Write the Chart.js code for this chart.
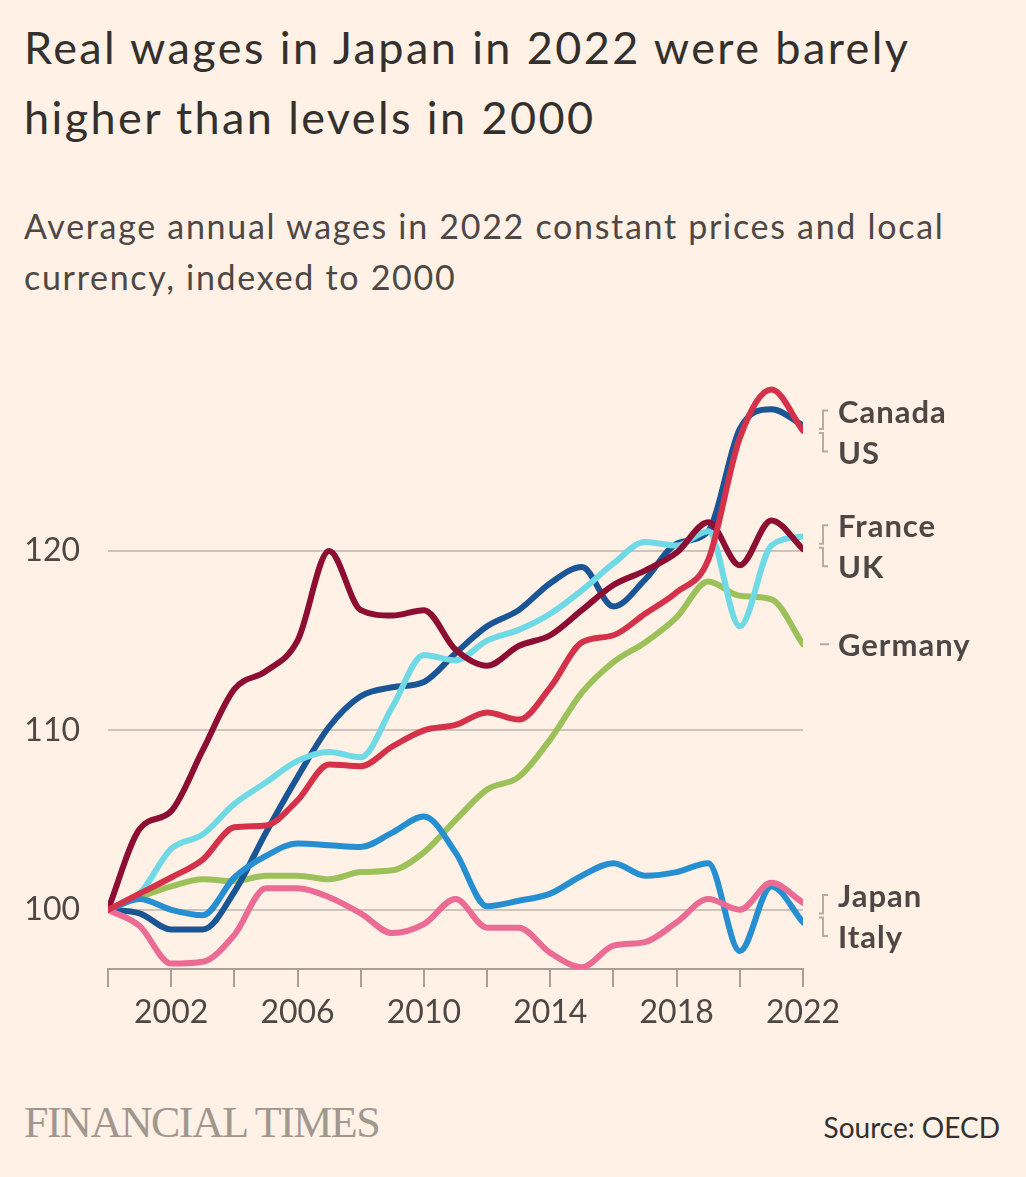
<!DOCTYPE html>
<html><head><meta charset="utf-8">
<script src="https://cdn.jsdelivr.net/npm/chart.js@4.4.1/dist/chart.umd.min.js"></script>
<style>
html,body{margin:0;padding:0;background:#fff1e5;}
body{width:1026px;height:1177px;position:relative;overflow:hidden;font-family:Lato,"Noto Sans",sans-serif;}
#title{position:absolute;left:24px;top:12px;font-size:45px;line-height:70px;color:#33302e;white-space:nowrap;letter-spacing:2.4px;}
#subtitle{position:absolute;left:24px;top:200px;font-size:34px;line-height:51px;color:#4d4845;white-space:nowrap;letter-spacing:1.7px;}
#wrap{position:absolute;left:0;top:340px;width:1026px;height:720px;}
.lbl{position:absolute;left:838px;font-size:31px;font-weight:700;color:#4d4845;line-height:1;transform:translateY(-50%);white-space:nowrap;letter-spacing:1px;}
#ft{position:absolute;left:24px;top:1097px;font-family:"Liberation Serif","DejaVu Serif",serif;font-size:44px;color:#a0978f;letter-spacing:-1.5px;white-space:nowrap;}
#src{position:absolute;right:26px;top:1110px;font-size:28px;color:#33302e;white-space:nowrap;}
</style></head>
<body>
<div id="title">Real wages in Japan in 2022 were barely<br>higher than levels in 2000</div>
<div id="subtitle">Average annual wages in 2022 constant prices and local<br>currency, indexed to 2000</div>
<div id="wrap"><canvas id="c" width="1026" height="720"></canvas></div>
<div id="labels"></div>
<div id="ft">FINANCIAL TIMES</div>
<div id="src">Source: OECD</div>
<script>
const years = [2000,2001,2002,2003,2004,2005,2006,2007,2008,2009,2010,2011,2012,2013,2014,2015,2016,2017,2018,2019,2020,2021,2022];
const canada  = [100,99.8,98.9,98.9,101.0,104.3,107.4,110.2,111.9,112.4,112.7,114.3,115.8,116.7,118.2,119.1,116.9,118.4,120.4,121.1,126.8,127.9,127.0];
const us      = [100,100.9,101.8,102.8,104.6,104.7,106.1,108.1,108.0,109.1,110.0,110.3,111.0,110.6,112.4,114.9,115.3,116.5,117.7,119.5,126.3,129.0,126.7];
const france  = [100,100.9,103.4,104.2,105.9,107.1,108.3,108.8,108.5,111.3,114.2,113.9,115.0,115.6,116.5,117.8,119.3,120.5,120.3,121.1,115.8,120.3,120.8];
const uk      = [100,104.5,105.5,108.9,112.3,113.3,115.0,120.0,116.7,116.4,116.7,114.5,113.6,114.7,115.3,116.7,118.1,118.9,119.9,121.6,119.2,121.7,120.1];
const germany = [100,100.7,101.3,101.7,101.6,101.9,101.9,101.7,102.1,102.2,103.2,105.0,106.7,107.4,109.5,112.1,113.8,114.9,116.3,118.3,117.5,117.3,114.8];
const japan   = [100,99.1,97.0,97.1,98.6,101.2,101.2,100.7,99.8,98.7,99.2,100.6,99.0,99.0,97.6,96.8,98.0,98.2,99.3,100.6,100.0,101.5,100.4];
const italy   = [100,100.6,100.0,99.7,101.8,103.0,103.7,103.6,103.5,104.3,105.2,103.2,100.2,100.5,100.9,101.9,102.6,101.9,102.1,102.6,97.7,101.3,99.3];
const yTicks = [100,110,120];
const xTicks = [2000,2002,2004,2006,2008,2010,2012,2014,2016,2018,2020,2022];
const xLabelYears = [2002,2006,2010,2014,2018,2022];

const seriesList = [
  {name:'US', data:us, color:'#d4324a', order:1},
  {name:'Japan', data:japan, color:'#eb6b95', order:2},
  {name:'UK', data:uk, color:'#8c0f33', order:3},
  {name:'Italy', data:italy, color:'#268fd1', order:4},
  {name:'France', data:france, color:'#70d9e6', order:5},
  {name:'Canada', data:canada, color:'#1a5596', order:6},
  {name:'Germany', data:germany, color:'#9cc15a', order:7}
];
const labelGroups = [['Canada','US'],['France','UK'],['Germany'],['Japan','Italy']];
const byName = {}; seriesList.forEach(s=>byName[s.name]=s);

const endLabels = {
  id:'endLabels',
  afterDraw(chart){
    const ys = chart.scales.y, ctx = chart.ctx;
    const xr = chart.chartArea.right;
    const box = document.getElementById('labels');
    box.innerHTML = '';
    ctx.save();
    ctx.strokeStyle = '#b5aca4';
    ctx.lineWidth = 2;
    labelGroups.forEach(g=>{
      const ends = g.map(n=>{const d=byName[n].data; return ys.getPixelForValue(d[d.length-1]);});
      const center = ends.reduce((a,b)=>a+b,0)/ends.length;
      g.forEach((n,i)=>{
        let ly = g.length===1 ? ends[0] : center + (i===0?-20.5:20.5) + 3;
        const ey = g.length===1 ? ends[0] : center + (i===0?-2:2) + 3;
        ctx.beginPath();
        if (g.length===1){
          ctx.moveTo(xr+17, ly); ctx.lineTo(xr+26, ly);
        } else {
          ctx.moveTo(xr+16, ey); ctx.lineTo(xr+20, ey); ctx.lineTo(xr+20, ly); ctx.lineTo(xr+25, ly);
        }
        ctx.stroke();
        const el = document.createElement('div');
        el.className='lbl'; el.textContent=n;
        el.style.top = (340 + ly) + 'px';
        box.appendChild(el);
      });
    });
    ctx.restore();
  }
};

new Chart(document.getElementById('c'), {
  type:'line',
  data:{
    datasets: seriesList.map(s=>({
      label:s.name,
      data: years.map((yr,i)=>({x:yr,y:s.data[i]})),
      borderColor:s.color,
      backgroundColor:s.color,
      borderWidth:6,
      pointRadius:0,
      fill:false,
      cubicInterpolationMode:'monotone',
      borderCapStyle:'round',
      borderJoinStyle:'round',
      order:s.order
    }))
  },
  options:{
    responsive:false,
    animation:false,
    layout:{padding:{left:0,right:223,top:31.5,bottom:0}},
    plugins:{legend:{display:false},tooltip:{enabled:false}},
    scales:{
      x:{
        type:'linear', min:2000, max:2022,
        afterBuildTicks:s=>{s.ticks = xTicks.map(v=>({value:v}));},
        afterFit:s=>{s.height = 91; s.paddingLeft = 0; s.paddingRight = 0;},
        ticks:{autoSkip:false,maxRotation:0,padding:6,color:'#4d4845',font:{family:'Lato',size:32},
          callback:v=>xLabelYears.includes(v)?String(v):''},
        grid:{drawOnChartArea:false,tickLength:18,color:'#a89f97',lineWidth:2},
        border:{display:true,color:'#a89f97',width:2}
      },
      y:{
        min:96.7, max:130,
        afterBuildTicks:s=>{s.ticks = yTicks.map(v=>({value:v}));},
        afterFit:s=>{s.width = 108; s.paddingTop = 0; s.paddingBottom = 0;},
        ticks:{padding:28,color:'#4d4845',font:{family:'Lato',size:32}},
        grid:{color:'#cfc4ba',lineWidth:2,drawTicks:false},
        border:{display:false}
      }
    }
  },
  plugins:[endLabels]
});
</script>
</body></html>
